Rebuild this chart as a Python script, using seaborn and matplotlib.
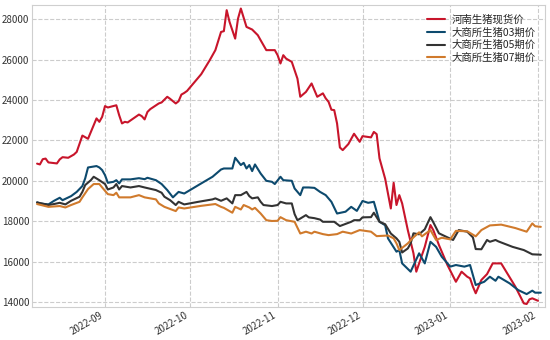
import pandas as pd
import numpy as np
import matplotlib
matplotlib.use("Agg")
import matplotlib.pyplot as plt
import matplotlib.dates as mdates
import seaborn as sns

# ---- data ----
spot_dates = ["2022-08-08","2022-08-09","2022-08-10","2022-08-11","2022-08-12","2022-08-15","2022-08-16","2022-08-17",
    "2022-08-19","2022-08-21","2022-08-22","2022-08-24","2022-08-26","2022-08-29","2022-08-30","2022-08-31","2022-09-01",
    "2022-09-02","2022-09-05","2022-09-06","2022-09-07","2022-09-08","2022-09-09","2022-09-13","2022-09-14","2022-09-15",
    "2022-09-16","2022-09-17","2022-09-20","2022-09-21","2022-09-23","2022-09-24","2022-09-26","2022-09-27","2022-09-28",
    "2022-09-29","2022-09-30","2022-10-05","2022-10-08","2022-10-10","2022-10-12","2022-10-13","2022-10-14","2022-10-15",
    "2022-10-17","2022-10-18","2022-10-19","2022-10-21","2022-10-23","2022-10-25","2022-10-26","2022-10-28","2022-10-31",
    "2022-11-01","2022-11-02","2022-11-03","2022-11-04","2022-11-06","2022-11-08","2022-11-09","2022-11-11","2022-11-13",
    "2022-11-15","2022-11-17","2022-11-18","2022-11-19","2022-11-20","2022-11-21","2022-11-22","2022-11-23","2022-11-24",
    "2022-11-26","2022-11-28","2022-11-30","2022-12-01","2022-12-04","2022-12-05","2022-12-06","2022-12-07","2022-12-09",
    "2022-12-11","2022-12-12","2022-12-13","2022-12-14","2022-12-15","2022-12-17","2022-12-19","2022-12-20","2022-12-21",
    "2022-12-23","2022-12-25","2022-12-26","2022-12-28","2022-12-29","2022-12-31","2023-01-03","2023-01-05","2023-01-07",
    "2023-01-08","2023-01-09","2023-01-10","2023-01-12","2023-01-14","2023-01-16","2023-01-19","2023-01-24","2023-01-27",
    "2023-01-28","2023-01-29","2023-01-30","2023-02-01"]
spot_values = [20850,20810,21070,21100,20910,20860,21060,21170,
    21140,21300,21430,22240,22080,23090,22920,23170,23700,
    23630,23740,23250,22840,22920,22890,23280,23200,23040,
    23410,23550,23830,23880,24160,24060,23830,23940,24270,
    24350,24450,25280,25970,26470,27370,27410,28450,27870,
    27040,28030,28530,27620,27490,27210,26960,26470,26470,
    26220,25810,26220,26050,25890,25060,24160,24400,24820,
    24160,24330,24080,23910,23520,23500,22840,21650,21520,
    21820,22330,21930,22210,22150,22420,22310,21110,20100,
    18630,19900,18800,19290,18880,17560,16410,15500,15910,
    16730,17810,17560,16820,16490,15830,15000,15500,15250,
    15170,14760,14430,15090,15380,15910,15910,14760,13930,
    13900,14130,14180,14060]

c03_dates = ["2022-08-08","2022-08-09","2022-08-12","2022-08-14","2022-08-16","2022-08-17","2022-08-20","2022-08-22",
    "2022-08-24","2022-08-25","2022-08-26","2022-08-29","2022-08-30","2022-08-31","2022-09-01","2022-09-02","2022-09-04",
    "2022-09-05","2022-09-06","2022-09-07","2022-09-10","2022-09-13","2022-09-15","2022-09-16","2022-09-19","2022-09-21",
    "2022-09-23","2022-09-25","2022-09-27","2022-09-29","2022-10-02","2022-10-05","2022-10-09","2022-10-12","2022-10-13",
    "2022-10-16","2022-10-17","2022-10-19","2022-10-20","2022-10-21","2022-10-22","2022-10-23","2022-10-24","2022-10-26",
    "2022-10-28","2022-10-30","2022-10-31","2022-11-02","2022-11-03","2022-11-06","2022-11-07","2022-11-09","2022-11-10",
    "2022-11-12","2022-11-14","2022-11-16","2022-11-18","2022-11-20","2022-11-22","2022-11-25","2022-11-27","2022-11-29",
    "2022-12-01","2022-12-03","2022-12-05","2022-12-06","2022-12-07","2022-12-09","2022-12-10","2022-12-13","2022-12-14",
    "2022-12-15","2022-12-18","2022-12-21","2022-12-23","2022-12-25","2022-12-27","2022-12-29","2023-01-01","2023-01-03",
    "2023-01-06","2023-01-08","2023-01-10","2023-01-13","2023-01-15","2023-01-17","2023-01-18","2023-01-19","2023-01-22",
    "2023-01-25","2023-01-28","2023-01-30","2023-01-31","2023-02-02"]
c03_values = [18930,18880,18830,19010,19160,19040,19240,19450,
    19740,20120,20660,20730,20660,20530,20280,19900,19950,
    20030,19870,20070,20070,20130,20080,20150,20030,19840,
    19540,19180,19450,19370,19620,19870,20200,20560,20610,
    20610,21140,20780,20890,20610,20780,20480,20810,20360,
    20000,19950,19840,20200,20030,20000,19620,19290,19670,
    19670,19650,19450,19290,18960,18380,18470,18710,18510,
    19000,18910,18960,18470,17970,17800,17150,16490,16570,
    15910,15500,16410,15910,16980,16730,16240,15750,15830,
    15750,15830,14840,15000,15250,15050,15250,15170,14920,
    14590,14390,14560,14460,14460]

c05_dates = ["2022-08-08","2022-08-12","2022-08-14","2022-08-16","2022-08-18","2022-08-20","2022-08-23","2022-08-24",
    "2022-08-25","2022-08-27","2022-08-28","2022-08-30","2022-09-01","2022-09-02","2022-09-04","2022-09-05","2022-09-06",
    "2022-09-07","2022-09-10","2022-09-13","2022-09-15","2022-09-19","2022-09-21","2022-09-22","2022-09-24","2022-09-26",
    "2022-09-27","2022-09-29","2022-10-04","2022-10-09","2022-10-10","2022-10-12","2022-10-14","2022-10-16","2022-10-17",
    "2022-10-19","2022-10-21","2022-10-22","2022-10-23","2022-10-25","2022-10-26","2022-10-27","2022-10-30","2022-11-01",
    "2022-11-02","2022-11-04","2022-11-06","2022-11-07","2022-11-08","2022-11-09","2022-11-11","2022-11-12","2022-11-14",
    "2022-11-16","2022-11-17","2022-11-21","2022-11-23","2022-11-27","2022-11-28","2022-11-30","2022-12-01","2022-12-04",
    "2022-12-05","2022-12-07","2022-12-09","2022-12-11","2022-12-13","2022-12-14","2022-12-15","2022-12-17","2022-12-18",
    "2022-12-19","2022-12-21","2022-12-23","2022-12-25","2022-12-26","2022-12-28","2022-12-31","2023-01-02","2023-01-04",
    "2023-01-07","2023-01-09","2023-01-10","2023-01-12","2023-01-14","2023-01-15","2023-01-17","2023-01-18","2023-01-23",
    "2023-01-27","2023-01-30","2023-02-02"]
c05_values = [18930,18800,18850,18910,18830,19010,19210,19450,
    19790,20030,20200,20030,19840,19570,19670,19840,19570,
    19740,19670,19740,19670,19540,19410,19210,19040,18800,
    18960,18830,18960,19080,19130,19010,19130,18880,19290,
    19290,19450,19240,19130,19180,18960,18800,18750,18800,
    18960,18880,18880,18350,18050,18130,18300,18190,18150,
    18080,17970,17970,17760,17970,18050,18050,18190,18200,
    18420,17970,17850,17390,17150,16980,16450,16650,16900,
    17400,17350,17600,18200,17950,17400,17200,17070,17560,
    17480,17200,16620,16610,17070,16980,17070,17000,16730,
    16570,16360,16340]

c07_dates = ["2022-08-08","2022-08-12","2022-08-16","2022-08-18","2022-08-20","2022-08-23","2022-08-24","2022-08-26",
    "2022-08-28","2022-08-30","2022-08-31","2022-09-02","2022-09-04","2022-09-05","2022-09-06","2022-09-10","2022-09-13",
    "2022-09-15","2022-09-19","2022-09-20","2022-09-22","2022-09-26","2022-09-27","2022-09-29","2022-10-05","2022-10-10",
    "2022-10-12","2022-10-13","2022-10-16","2022-10-17","2022-10-19","2022-10-20","2022-10-22","2022-10-23","2022-10-24",
    "2022-10-26","2022-10-28","2022-10-30","2022-11-01","2022-11-02","2022-11-04","2022-11-07","2022-11-09","2022-11-11",
    "2022-11-13","2022-11-14","2022-11-17","2022-11-19","2022-11-22","2022-11-24","2022-11-27","2022-11-30","2022-12-02",
    "2022-12-04","2022-12-06","2022-12-10","2022-12-12","2022-12-13","2022-12-14","2022-12-17","2022-12-19","2022-12-21",
    "2022-12-22","2022-12-25","2022-12-27","2022-12-29","2023-01-01","2023-01-03","2023-01-07","2023-01-10","2023-01-12",
    "2023-01-15","2023-01-19","2023-01-24","2023-01-28","2023-01-30","2023-01-31","2023-02-02"]
c07_values = [18850,18710,18750,18680,18800,18960,19180,19590,
    19840,19840,19670,19340,19290,19410,19180,19180,19290,
    19180,19080,18880,18710,18500,18680,18630,18760,18850,
    18710,18660,18420,18710,18580,18800,18680,18580,18660,
    18380,18050,18010,18020,18200,18050,17970,17390,17480,
    17390,17480,17360,17310,17360,17480,17390,17560,17520,
    17480,17260,17290,17150,16900,16570,16900,17200,17450,
    17250,17560,17070,17180,17100,17520,17500,17250,17560,
    17790,17830,17660,17480,17890,17750,17720]

series_names = ["河南生猪现货价", "大商所生猪03期价", "大商所生猪05期价", "大商所生猪07期价"]
series_colors = ["#c8152b", "#0d4a6e", "#333333", "#d07a2c"]

frames = []
for name, d, v in zip(series_names,
                      [spot_dates, c03_dates, c05_dates, c07_dates],
                      [spot_values, c03_values, c05_values, c07_values]):
    frames.append(pd.DataFrame({"date": pd.to_datetime(d), "price": v, "series": name}))
df = pd.concat(frames, ignore_index=True)

# ---- style ----
sns.set_style("whitegrid", {"grid.linestyle": "--", "grid.color": "#cccccc",
                            "axes.edgecolor": "#cfcfcf", "axes.linewidth": 1.2})
plt.rcParams['font.family'] = ['Noto Sans CJK SC', 'DejaVu Sans']

fig = plt.figure(figsize=(5.5, 3.4), dpi=100)
ax = fig.add_axes([0.058, 0.097, 0.933, 0.888])

sns.lineplot(data=df, x="date", y="price", hue="series", hue_order=series_names,
             palette=dict(zip(series_names, series_colors)), estimator=None,
             linewidth=1.5, ax=ax)

ax.set_xlim(pd.Timestamp("2022-08-06 04:00"), pd.Timestamp("2023-02-03 12:00"))
ax.set_ylim(13750, 28700)
ax.set_yticks([14000, 16000, 18000, 20000, 22000, 24000, 26000, 28000])
ax.xaxis.set_major_locator(mdates.MonthLocator())
ax.xaxis.set_major_formatter(mdates.DateFormatter("%Y-%m"))
ax.set_xlabel("")
ax.set_ylabel("")
ax.grid(True, linestyle="--", color="#cccccc", linewidth=0.8)
ax.tick_params(axis="both", labelsize=7, colors="#333333", length=0, pad=2)
for lbl in ax.get_xticklabels():
    lbl.set_rotation(30)
    lbl.set_ha("right")

leg = ax.legend(loc="upper right", frameon=False, fontsize=7.5, handlelength=1.8,
                handletextpad=0.6, labelspacing=0.25, borderaxespad=0.5)
for line in leg.get_lines():
    line.set_linewidth(1.5)

fig.savefig("out.png", dpi=100)
